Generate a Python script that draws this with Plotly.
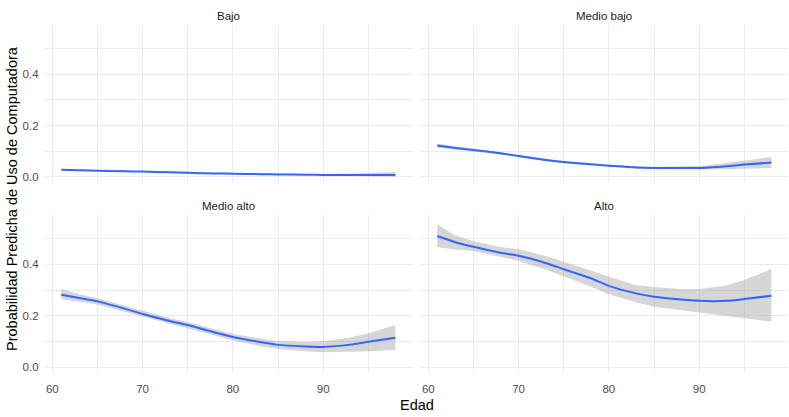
import plotly.graph_objects as go

panels = ["Bajo", "Medio bajo", "Medio alto", "Alto"]
edad = [61, 63, 65, 68, 70, 73, 75, 78, 80, 83, 85, 88, 90, 93, 95, 98]

bajo_fit = [0.028, 0.026, 0.0245, 0.022, 0.021, 0.018, 0.016, 0.014, 0.013, 0.011, 0.010, 0.009, 0.008, 0.008, 0.008, 0.008]
bajo_lo = [0.025, 0.024, 0.022, 0.020, 0.019, 0.016, 0.014, 0.012, 0.011, 0.009, 0.008, 0.006, 0.005, 0.004, 0.003, 0.001]
bajo_hi = [0.031, 0.028, 0.027, 0.024, 0.023, 0.020, 0.018, 0.016, 0.015, 0.013, 0.012, 0.012, 0.012, 0.013, 0.015, 0.019]

mbajo_fit = [0.122, 0.113, 0.105, 0.092, 0.0815, 0.066, 0.058, 0.049, 0.044, 0.037, 0.035, 0.035, 0.035, 0.042, 0.048, 0.056]
mbajo_lo = [0.114, 0.106, 0.099, 0.087, 0.077, 0.061, 0.053, 0.045, 0.040, 0.033, 0.031, 0.030, 0.030, 0.030, 0.031, 0.035]
mbajo_hi = [0.129, 0.120, 0.111, 0.097, 0.086, 0.071, 0.062, 0.053, 0.048, 0.042, 0.040, 0.041, 0.043, 0.054, 0.063, 0.078]

malto_fit = [0.282, 0.269, 0.256, 0.228, 0.207, 0.180, 0.164, 0.135, 0.118, 0.098, 0.087, 0.081, 0.079, 0.088, 0.099, 0.115]
malto_lo = [0.264, 0.255, 0.244, 0.217, 0.197, 0.169, 0.152, 0.123, 0.104, 0.082, 0.071, 0.062, 0.058, 0.060, 0.062, 0.067]
malto_hi = [0.304, 0.284, 0.268, 0.239, 0.219, 0.191, 0.175, 0.147, 0.130, 0.112, 0.102, 0.099, 0.101, 0.116, 0.132, 0.164]

alto_fit = [0.510, 0.486, 0.468, 0.445, 0.433, 0.405, 0.381, 0.346, 0.316, 0.287, 0.274, 0.263, 0.258, 0.258, 0.265, 0.278]
alto_lo = [0.466, 0.458, 0.452, 0.428, 0.413, 0.380, 0.352, 0.313, 0.284, 0.253, 0.235, 0.220, 0.213, 0.199, 0.190, 0.177]
alto_hi = [0.556, 0.512, 0.490, 0.467, 0.459, 0.432, 0.410, 0.377, 0.354, 0.319, 0.312, 0.304, 0.304, 0.318, 0.339, 0.382]

x_ticks = [60, 70, 80, 90]
x_minor = [65, 75, 85, 95]
y_ticks = [0.0, 0.2, 0.4]
y_tick_text = ["0.0", "0.2", "0.4"]
y_minor = [0.1, 0.3, 0.5]

fits = [bajo_fit, mbajo_fit, malto_fit, alto_fit]
los = [bajo_lo, mbajo_lo, malto_lo, alto_lo]
his = [bajo_hi, mbajo_hi, malto_hi, alto_hi]

W, H = 789, 417
# panel pixel boxes (left, right, top, bottom)
boxes = [(44.6, 412.1, 25.1, 182.9), (420.6, 788.1, 25.1, 182.9),
         (44.6, 412.1, 215.4, 373.2), (420.6, 788.1, 215.4, 373.2)]

fig = go.Figure()
layout = dict(width=W, height=H, margin=dict(l=0, r=0, t=0, b=0),
              plot_bgcolor="white", paper_bgcolor="white", showlegend=False,
              font=dict(family="Liberation Sans, Arial, sans-serif"))
annotations = []
grid = "#EBEBEB"
for i, name in enumerate(panels):
    n = i + 1
    xa = "x" if n == 1 else f"x{n}"
    ya = "y" if n == 1 else f"y{n}"
    fig.add_trace(go.Scatter(x=edad + edad[::-1], y=his[i] + los[i][::-1], fill="toself",
                             fillcolor="rgba(153,153,153,0.4)", line=dict(width=0),
                             mode="lines", hoverinfo="skip", xaxis=xa, yaxis=ya))
    fig.add_trace(go.Scatter(x=edad, y=fits[i], mode="lines", line_shape="spline",
                             line=dict(color="#3366FF", width=2, smoothing=0.6), xaxis=xa, yaxis=ya))
    l, r, t, b = boxes[i]
    xkey = "xaxis" if n == 1 else f"xaxis{n}"
    ykey = "yaxis" if n == 1 else f"yaxis{n}"
    layout[xkey] = dict(domain=[l / W, r / W], range=[59.15, 99.85], anchor=ya,
                        tickvals=x_ticks, showticklabels=(i >= 2), showgrid=True,
                        gridcolor=grid, gridwidth=1, zeroline=False, showline=False,
                        ticks="", ticklabelstandoff=7, tickfont=dict(size=11.5, color="#4D4D4D"),
                        minor=dict(tickvals=x_minor, showgrid=True, gridcolor=grid, gridwidth=0.5))
    layout[ykey] = dict(domain=[1 - b / H, 1 - t / H], range=[-0.023, 0.59], anchor=xa,
                        tickvals=y_ticks, ticktext=y_tick_text, showticklabels=(i % 2 == 0),
                        showgrid=True, gridcolor=grid, gridwidth=1, zeroline=False,
                        showline=False, ticks="", ticklabelstandoff=5,
                        tickfont=dict(size=11.5, color="#4D4D4D"),
                        minor=dict(tickvals=y_minor, showgrid=True, gridcolor=grid, gridwidth=0.5))
    annotations.append(dict(text=name, x=(l + r) / 2 / W, y=1 - (t - 9.5) / H, xref="paper",
                            yref="paper", showarrow=False, xanchor="center", yanchor="middle",
                            font=dict(size=11.5, color="#1A1A1A")))

annotations.append(dict(text="Edad", x=416.5 / W, y=1 - 405 / H, xref="paper", yref="paper",
                        showarrow=False, xanchor="center", yanchor="middle",
                        font=dict(size=14.5, color="black")))
annotations.append(dict(text="Probabilidad Predicha de Uso de Computadora", x=12 / W, y=1 - 199 / H,
                        xref="paper", yref="paper", showarrow=False, textangle=-90,
                        xanchor="center", yanchor="middle", font=dict(size=14.5, color="black")))
layout["annotations"] = annotations
fig.update_layout(**layout)
fig.write_html("out.html")
